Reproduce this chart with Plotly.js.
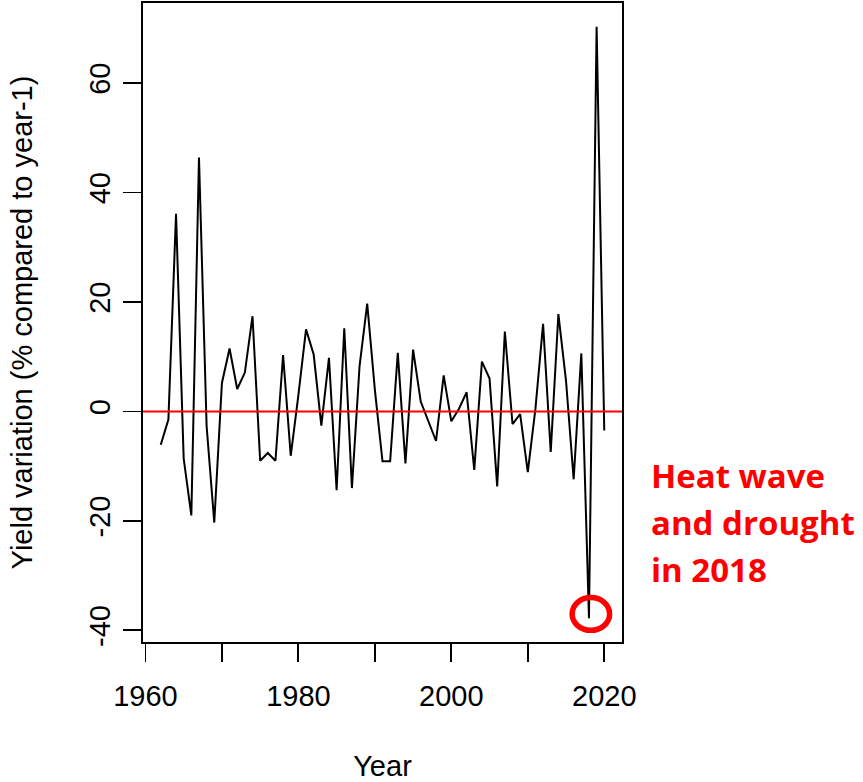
<!DOCTYPE html>
<html>
<head>
<meta charset="utf-8">
<script src="https://cdn.plot.ly/plotly-3.0.1.min.js"></script>
<style>
  html, body { margin: 0; padding: 0; background: #ffffff; }
  #chart { width: 863px; height: 782px; }
</style>
</head>
<body>
<div id="chart"></div>
<script>
// Yearly yield variation, % compared to the previous year
const years = [
  1962, 1963, 1964, 1965, 1966, 1967, 1968, 1969, 1970, 1971,
  1972, 1973, 1974, 1975, 1976, 1977, 1978, 1979, 1980, 1981,
  1982, 1983, 1984, 1985, 1986, 1987, 1988, 1989, 1990, 1991,
  1992, 1993, 1994, 1995, 1996, 1997, 1998, 1999, 2000, 2001,
  2002, 2003, 2004, 2005, 2006, 2007, 2008, 2009, 2010, 2011,
  2012, 2013, 2014, 2015, 2016, 2017, 2018, 2019, 2020
];
const yieldVariation = [
  -6.1, -1.5, 36.1, -8.6, -19.0, 46.4, -2.7, -20.3, 5.2, 11.5,
  4.1, 7.1, 17.4, -9.0, -7.6, -9.0, 10.3, -8.1, 3.0, 15.0,
  10.4, -2.6, 9.8, -14.4, 15.2, -14.0, 8.3, 19.7, 4.0, -9.1,
  -9.1, 10.7, -9.5, 11.3, 1.8, -1.7, -5.4, 6.6, -1.8, 0.5,
  3.5, -10.7, 9.1, 6.0, -13.7, 14.6, -2.3, -0.5, -11.1, 0.5,
  16.0, -7.4, 17.8, 5.6, -12.4, 10.6, -37.8, 70.3, -3.5
];

// Axis ticks
const xTickVals = [1960, 1970, 1980, 1990, 2000, 2010, 2020];
const xTickText = ["1960", "", "1980", "", "2000", "", "2020"];
const yTickVals = [-40, -20, 0, 20, 40, 60];
const yTickText = ["-40", "-20", "0", "20", "40", "60"];

// Highlighted year and the note beside the plot, one entry per line
const highlightYear = 2018;
const noteLines = ["Heat wave", "and drought", "in 2018"];

// Axis ranges padded by 4% on each side
function paddedRange(vals) {
  const lo = Math.min(...vals), hi = Math.max(...vals);
  const pad = (hi - lo) * 0.04;
  return [lo - pad, hi + pad];
}
const xRange = paddedRange(years);
const yRange = paddedRange(yieldVariation);

const hiValue = yieldVariation[years.indexOf(highlightYear)];

const axisFont = { family: "Liberation Sans, Arial, sans-serif", size: 29, color: "#000000" };

const trace = {
  type: "scatter",
  mode: "lines",
  x: years,
  y: yieldVariation,
  line: { color: "#000000", width: 2 },
  hoverinfo: "x+y",
  showlegend: false
};

// note lines stacked below each other, in paper units
const noteTop = 0.2613;
const noteStep = 0.0743;
const noteAnnotations = noteLines.map((line, i) => ({
  xref: "paper", yref: "paper",
  x: 1.057, y: noteTop - i * noteStep,
  xanchor: "left", yanchor: "middle",
  align: "left",
  showarrow: false,
  text: "<b>" + line + "</b>",
  font: { family: "Open Sans, sans-serif", size: 33, color: "#ff0000" }
}));

const layout = {
  width: 863,
  height: 782,
  margin: { l: 143, r: 241, t: 3, b: 140, pad: 0 },
  paper_bgcolor: "#ffffff",
  plot_bgcolor: "#ffffff",
  font: axisFont,
  showlegend: false,
  xaxis: {
    range: xRange,
    showgrid: false,
    zeroline: false,
    showline: true,
    mirror: true,
    linecolor: "#000000",
    linewidth: 1.8,
    ticks: "outside",
    ticklen: 18,
    tickwidth: 1.8,
    tickcolor: "#000000",
    tickmode: "array",
    tickvals: xTickVals,
    ticktext: xTickText,
    tickfont: axisFont,
    ticklabelstandoff: 9,
    automargin: false,
    title: { text: "Year", font: axisFont, standoff: 46 }
  },
  yaxis: {
    range: yRange,
    showgrid: false,
    zeroline: false,
    showline: true,
    mirror: true,
    linecolor: "#000000",
    linewidth: 1.8,
    ticks: "outside",
    ticklen: 18,
    tickwidth: 1.8,
    tickcolor: "#000000",
    tickmode: "array",
    tickvals: yTickVals,
    ticktext: yTickText,
    tickangle: -90,
    tickfont: axisFont,
    ticklabelstandoff: 2,
    automargin: false,
    title: { text: "Yield variation (% compared to year-1)", font: axisFont, standoff: 42 }
  },
  shapes: [
    {
      // reference line at zero change
      type: "line",
      xref: "paper", x0: 0, x1: 1,
      yref: "y", y0: 0, y1: 0,
      line: { color: "#ff0000", width: 2 },
      layer: "above"
    },
    {
      // ring around the highlighted year
      type: "circle",
      xref: "x", yref: "y",
      x0: highlightYear - 2.2, x1: highlightYear + 2.7,
      y0: hiValue - 2.2, y1: hiValue + 3.8,
      line: { color: "#ff0000", width: 5.5 },
      layer: "above"
    }
  ],
  annotations: noteAnnotations
};

Plotly.newPlot("chart", [trace], layout, { displayModeBar: false, staticPlot: true });
</script>
</body>
</html>
